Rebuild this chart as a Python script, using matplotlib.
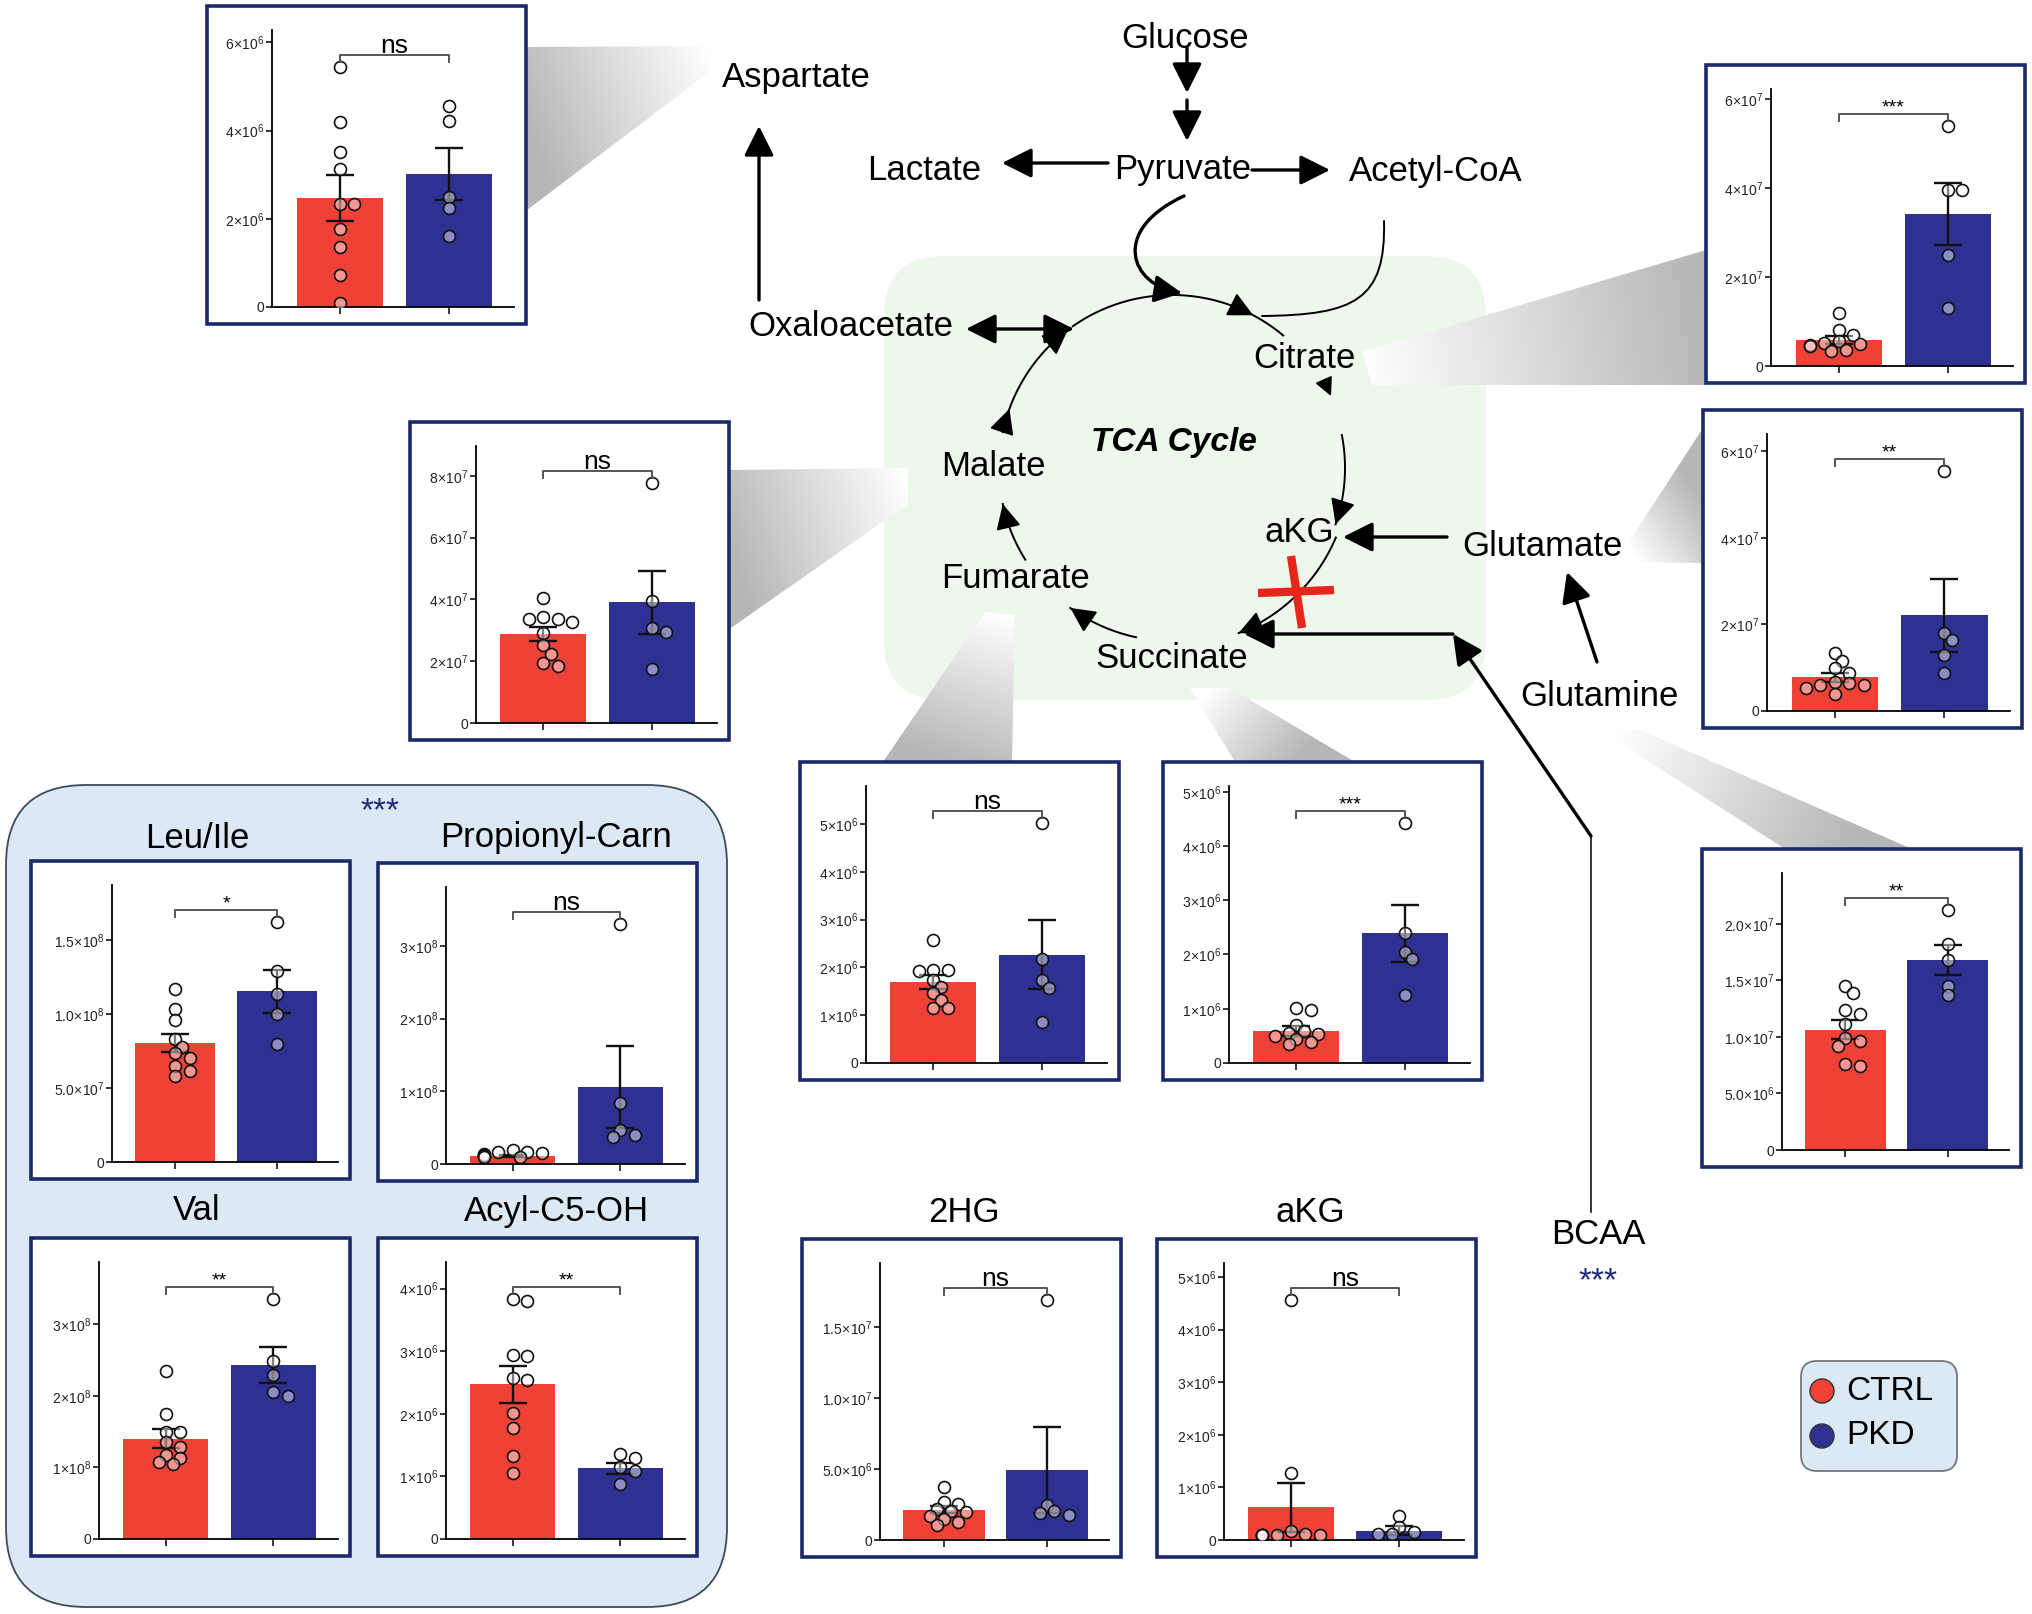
import numpy as np
import matplotlib
matplotlib.use("Agg")
import matplotlib.pyplot as plt
from matplotlib.patches import Rectangle, FancyBboxPatch, Polygon, FancyArrowPatch
from matplotlib.path import Path
from matplotlib.colors import to_rgb

plt.rcParams['font.family'] = ['Liberation Sans', 'DejaVu Sans']
plt.rcParams['mathtext.fontset'] = 'custom'
plt.rcParams['mathtext.rm'] = 'Liberation Sans'
plt.rcParams['mathtext.it'] = 'Liberation Sans:italic'
plt.rcParams['mathtext.bf'] = 'Liberation Sans:bold'

W, H = 2032, 1614
CTRL_COL = '#ef4136'
PKD_COL = '#2e3192'
NAVY = '#1b2a6b'

# ---- data (CTRL points, PKD points, bar means, SEM) ----
groups = ['CTRL', 'PKD']

asp_ctrl = [5.44e6, 4.19e6, 3.52e6, 3.12e6, 2.33e6, 2.33e6, 1.78e6, 1.37e6, 0.73e6, 0.10e6]
asp_pkd = [4.57e6, 4.21e6, 2.50e6, 2.24e6, 1.60e6]
asp_mean = [2.48e6, 3.02e6]
asp_sem = [0.52e6, 0.59e6]

cit_ctrl = [1.19e7, 0.80e7, 0.69e7, 0.56e7, 0.52e7, 0.50e7, 0.48e7, 0.45e7, 0.37e7, 0.34e7]
cit_pkd = [5.39e7, 3.96e7, 3.96e7, 2.50e7, 1.30e7]
cit_mean = [0.58e7, 3.41e7]
cit_sem = [0.09e7, 0.70e7]

glu_ctrl = [1.34e7, 1.15e7, 1.00e7, 0.88e7, 0.68e7, 0.65e7, 0.61e7, 0.60e7, 0.54e7, 0.40e7]
glu_pkd = [5.54e7, 1.80e7, 1.65e7, 1.30e7, 0.88e7]
glu_mean = [0.78e7, 2.21e7]
glu_sem = [0.10e7, 0.84e7]

gln_ctrl = [1.45e7, 1.39e7, 1.24e7, 1.20e7, 1.11e7, 0.99e7, 0.96e7, 0.92e7, 0.76e7, 0.74e7]
gln_pkd = [2.12e7, 1.82e7, 1.68e7, 1.45e7, 1.37e7]
gln_mean = [1.065e7, 1.68e7]
gln_sem = [0.08e7, 0.135e7]

mal_ctrl = [4.06e7, 3.42e7, 3.38e7, 3.35e7, 3.28e7, 2.90e7, 2.52e7, 2.24e7, 1.93e7, 1.86e7]
mal_pkd = [7.76e7, 3.94e7, 3.08e7, 2.95e7, 1.75e7]
mal_mean = [2.88e7, 3.90e7]
mal_sem = [0.24e7, 1.02e7]

fum_ctrl = [2.58e6, 1.95e6, 1.94e6, 1.92e6, 1.74e6, 1.60e6, 1.46e6, 1.32e6, 1.15e6, 1.15e6]
fum_pkd = [5.02e6, 2.18e6, 1.73e6, 1.57e6, 0.86e6]
fum_mean = [1.69e6, 2.27e6]
fum_sem = [0.15e6, 0.72e6]

suc_ctrl = [1.02e6, 0.98e6, 0.70e6, 0.59e6, 0.55e6, 0.53e6, 0.50e6, 0.45e6, 0.39e6, 0.35e6]
suc_pkd = [4.42e6, 2.40e6, 2.04e6, 1.91e6, 1.25e6]
suc_mean = [0.59e6, 2.39e6]
suc_sem = [0.09e6, 0.53e6]

hg_ctrl = [3.70e6, 2.65e6, 2.53e6, 2.18e6, 2.06e6, 1.95e6, 1.71e6, 1.48e6, 1.24e6, 1.08e6]
hg_pkd = [1.69e7, 2.48e6, 2.06e6, 1.87e6, 1.78e6]
hg_mean = [2.13e6, 4.94e6]
hg_sem = [0.25e6, 3.03e6]

akg_ctrl = [4.56e6, 1.27e6, 0.18e6, 0.11e6, 0.10e6, 0.09e6, 0.09e6, 0.09e6, 0.09e6, 0.09e6]
akg_pkd = [0.46e6, 0.24e6, 0.15e6, 0.11e6, 0.11e6]
akg_mean = [0.62e6, 0.18e6]
akg_sem = [0.46e6, 0.09e6]

leu_ctrl = [1.168e8, 1.033e8, 0.959e8, 0.831e8, 0.775e8, 0.734e8, 0.700e8, 0.651e8, 0.618e8, 0.584e8]
leu_pkd = [1.62e8, 1.287e8, 1.134e8, 1.00e8, 0.797e8]
leu_mean = [0.804e8, 1.152e8]
leu_sem = [0.063e8, 0.143e8]

pro_ctrl = [0.19e8, 0.17e8, 0.16e8, 0.15e8, 0.14e8, 0.13e8, 0.12e8, 0.11e8, 0.10e8, 0.09e8]
pro_pkd = [3.30e8, 0.845e8, 0.466e8, 0.397e8, 0.365e8]
pro_mean = [0.114e8, 1.06e8]
pro_sem = [0.012e8, 0.57e8]

val_ctrl = [2.34e8, 1.75e8, 1.50e8, 1.49e8, 1.36e8, 1.29e8, 1.18e8, 1.13e8, 1.08e8, 1.05e8]
val_pkd = [3.35e8, 2.48e8, 2.29e8, 2.06e8, 2.00e8]
val_mean = [1.40e8, 2.43e8]
val_sem = [0.13e8, 0.25e8]

c5_ctrl = [3.83e6, 3.80e6, 2.94e6, 2.93e6, 2.57e6, 2.54e6, 2.01e6, 1.78e6, 1.33e6, 1.05e6]
c5_pkd = [1.36e6, 1.29e6, 1.15e6, 1.08e6, 0.88e6]
c5_mean = [2.47e6, 1.13e6]
c5_sem = [0.30e6, 0.09e6]

# y ticks of each panel
asp_ticks = [0, 2e6, 4e6, 6e6]
cit_ticks = [0, 2e7, 4e7, 6e7]
glu_ticks = [0, 2e7, 4e7, 6e7]
gln_ticks = [0, 5e6, 1e7, 1.5e7, 2e7]
mal_ticks = [0, 2e7, 4e7, 6e7, 8e7]
fum_ticks = [0, 1e6, 2e6, 3e6, 4e6, 5e6]
suc_ticks = [0, 1e6, 2e6, 3e6, 4e6, 5e6]
hg_ticks = [0, 5e6, 1e7, 1.5e7]
akg_ticks = [0, 1e6, 2e6, 3e6, 4e6, 5e6]
leu_ticks = [0, 5e7, 1e8, 1.5e8]
pro_ticks = [0, 1e8, 2e8, 3e8]
val_ticks = [0, 1e8, 2e8, 3e8]
c5_ticks = [0, 1e6, 2e6, 3e6, 4e6]

significance = {'asp': 'ns', 'cit': '***', 'glu': '**', 'gln': '**', 'mal': 'ns',
                'fum': 'ns', 'suc': '***', 'hg': 'ns', 'akg': 'ns', 'leu': '*',
                'pro': 'ns', 'val': '**', 'c5': '**'}


def tick_label(v, dec):
    if v == 0:
        return '0'
    e = int(np.floor(np.log10(v) + 1e-9))
    m = v / 10 ** e
    ms = f'{m:.1f}' if dec else f'{m:.0f}'
    return r'$' + ms + r'\!\times\!10^{' + str(e) + '}$'


def swarm(vals, xc, ypx, xpx, diam=12.0):
    xs = np.zeros(len(vals))
    placed = []
    for i in np.argsort(vals)[::-1]:
        y = vals[i] * ypx
        for k in [0, 1, -1, 2, -2, 3, -3, 4, -4]:
            x = k * diam * 0.6
            if all((x - px) ** 2 + (y - py) ** 2 >= (0.75 * diam) ** 2 for px, py in placed):
                break
        placed.append((x, y))
        xs[i] = xc + x / xpx
    return xs


fig = plt.figure(figsize=(W / 100, H / 100), dpi=100)
ax0 = fig.add_axes([0, 0, 1, 1])
ax0.set_xlim(0, W)
ax0.set_ylim(H, 0)
ax0.axis('off')


def wedge(verts, dark_pt, light_pt, dark='#b6b6b6'):
    poly = Polygon(verts, closed=True, fc='none', ec='none')
    ax0.add_patch(poly)
    xs = [v[0] for v in verts]
    ys = [v[1] for v in verts]
    x0, x1, y0, y1 = min(xs), max(xs), min(ys), max(ys)
    X, Y = np.meshgrid(np.linspace(x0, x1, int(x1 - x0) + 2), np.linspace(y0, y1, int(y1 - y0) + 2))
    d = np.array(light_pt, float) - np.array(dark_pt, float)
    t = np.clip(((X - dark_pt[0]) * d[0] + (Y - dark_pt[1]) * d[1]) / (d @ d), 0, 1)
    img = np.array(to_rgb(dark)) * (1 - t[..., None]) + t[..., None]
    im = ax0.imshow(img, extent=[x0, x1, y1, y0], origin='upper', aspect='auto', zorder=1)
    im.set_clip_path(poly)


# background shapes
ax0.add_patch(FancyBboxPatch((6, 785), 721, 822, boxstyle='round,pad=0,rounding_size=80',
                             fc='#dce9f5', ec='#3f4a5e', lw=1.3, zorder=0.5))
ax0.add_patch(FancyBboxPatch((884, 256), 602, 444, boxstyle='round,pad=0,rounding_size=60',
                             fc='#eef7ec', ec='none', zorder=0.5))

wedge([(527, 47), (712, 46), (712, 70), (527, 210)], (527, 130), (712, 58))
wedge([(1362, 352), (1706, 250), (1706, 385), (1372, 385)], (1706, 320), (1365, 368))
wedge([(1630, 540), (1703, 428), (1703, 563), (1630, 562)], (1703, 500), (1630, 550))
wedge([(1600, 730), (1640, 730), (1912, 849), (1785, 849)], (1850, 849), (1620, 730))
wedge([(728, 470), (908, 468), (908, 504), (728, 630)], (728, 550), (908, 486))
wedge([(985, 612), (1015, 615), (1012, 762), (883, 762)], (950, 762), (1000, 614))
wedge([(1190, 688), (1230, 688), (1355, 762), (1235, 762)], (1295, 762), (1210, 688))
ax0.set_xlim(0, W)
ax0.set_ylim(H, 0)

# ---- bar panels ----
panels = [
    ('asp', asp_ctrl, asp_pkd, asp_mean, asp_sem, asp_ticks, False, 207, 6, 65),
    ('cit', cit_ctrl, cit_pkd, cit_mean, cit_sem, cit_ticks, False, 1706, 65, 65),
    ('glu', glu_ctrl, glu_pkd, glu_mean, glu_sem, glu_ticks, False, 1703, 410, 64),
    ('gln', gln_ctrl, gln_pkd, gln_mean, gln_sem, gln_ticks, True, 1702, 849, 80),
    ('mal', mal_ctrl, mal_pkd, mal_mean, mal_sem, mal_ticks, False, 410, 422, 66),
    ('fum', fum_ctrl, fum_pkd, fum_mean, fum_sem, fum_ticks, False, 800, 762, 66),
    ('suc', suc_ctrl, suc_pkd, suc_mean, suc_sem, suc_ticks, False, 1163, 762, 66),
    ('hg', hg_ctrl, hg_pkd, hg_mean, hg_sem, hg_ticks, True, 802, 1239, 78),
    ('akg', akg_ctrl, akg_pkd, akg_mean, akg_sem, akg_ticks, False, 1157, 1239, 67),
    ('leu', leu_ctrl, leu_pkd, leu_mean, leu_sem, leu_ticks, True, 31, 861, 81),
    ('pro', pro_ctrl, pro_pkd, pro_mean, pro_sem, pro_ticks, False, 378, 863, 68),
    ('val', val_ctrl, val_pkd, val_mean, val_sem, val_ticks, False, 31, 1238, 68),
    ('c5', c5_ctrl, c5_pkd, c5_mean, c5_sem, c5_ticks, False, 378, 1238, 68),
]

BW, BH = 319, 318
for key, ctrl, pkd, mean, sem, ticks, dec, bx, by, loff in panels:
    ax0.add_patch(Rectangle((bx, by), BW, BH, fc='white', ec=NAVY, lw=2.6, zorder=3))
    left, right = bx + loff, bx + BW - 12
    top, bottom = by + 24, by + 301
    ax = fig.add_axes([left / W, 1 - bottom / H, (right - left) / W, (bottom - top) / H])
    ax.patch.set_alpha(0)
    bracket = 1.05 * max(max(ctrl), max(pkd))
    ytop = 1.1 * bracket
    ax.set_xlim(-0.62, 1.6)
    ax.set_ylim(0, ytop)
    ax.bar([0, 1], mean, width=0.79, color=[CTRL_COL, PKD_COL], zorder=2)
    ax.errorbar([0, 1], mean, yerr=sem, fmt='none', ecolor='#111111', elinewidth=1.7,
                capsize=10, capthick=1.7, zorder=3)
    ypx = (bottom - top) / ytop
    xpx = (right - left) / 2.22
    for xc, vals in [(0, ctrl), (1, pkd)]:
        xs = swarm(np.array(vals), xc, ypx, xpx)
        ax.plot(xs, vals, 'o', ms=8.6, mfc=(1, 1, 1, 0.45), mec='#111111', mew=1.2,
                linestyle='none', zorder=4)
    drop = 0.026 * ytop
    ax.plot([0, 0, 1, 1], [bracket - drop, bracket, bracket, bracket - drop],
            color='#555555', lw=1.4, zorder=5)
    sig = significance[key]
    if sig == 'ns':
        ax.text(0.5, bracket + 0.008 * ytop, sig, ha='center', va='baseline', fontsize=19)
    else:
        ax.text(0.5, bracket + 0.006 * ytop, sig, ha='center', va='baseline', fontsize=14)
    for s in ['top', 'right']:
        ax.spines[s].set_visible(False)
    for s in ['left', 'bottom']:
        ax.spines[s].set_linewidth(1.3)
    ax.set_yticks(ticks)
    ax.set_yticklabels([tick_label(v, dec) for v in ticks], fontsize=10, color='#222222')
    ax.set_xticks([0, 1])
    ax.set_xticklabels([])
    ax.tick_params(axis='y', length=4, width=1.1, pad=1.5)
    ax.tick_params(axis='x', length=5, width=1.1)

# ---- pathway diagram ----
LBL = 25


def label(x, y, s, **kw):
    kw.setdefault('fontsize', LBL)
    ax0.text(x, y, s, ha='center', va='center', zorder=6, **kw)


def arrow(p0, p1, lw=2.4, style='-|>', ms=26):
    ax0.annotate('', xy=p1, xytext=p0, zorder=6,
                 arrowprops=dict(arrowstyle=style + ',head_length=0.7,head_width=0.35',
                                 lw=lw, color='black', mutation_scale=ms,
                                 shrinkA=0, shrinkB=0))


label(1185, 39, 'Glucose')
label(796, 78, 'Aspartate')
label(924, 170, 'Lactate')
label(1183, 170, 'Pyruvate')
label(1436, 172, 'Acetyl-CoA')
label(851, 326, 'Oxaloacetate')
label(1304, 359, 'Citrate')
label(993, 466, 'Malate')
label(1174, 442, 'TCA Cycle', fontweight='bold', fontstyle='italic', fontsize=24)
label(1299, 533, 'aKG')
label(1542, 547, 'Glutamate')
label(1015, 578, 'Fumarate')
label(1172, 659, 'Succinate')
label(1599, 697, 'Glutamine')
label(1598, 1234, 'BCAA')
label(1598, 1282, '***', color='#1f2a7a', fontsize=24)
label(380, 812, '***', color='#1f2a7a', fontsize=24)
label(197, 838, 'Leu/Ile')
label(556, 838, 'Propionyl-Carn')
label(197, 1211, 'Val')
label(556, 1211, 'Acyl-C5-OH')
label(964, 1213, '2HG')
label(1310, 1213, 'aKG')

arrow((1187, 48), (1187, 93))
arrow((1187, 100), (1187, 141))
arrow((1108, 163), (1002, 163))
arrow((1252, 170), (1330, 170))
arrow((759, 300), (759, 126))
arrow((966, 329), (1074, 329), style='<|-|>')
arrow((1447, 537), (1343, 537))
arrow((1597, 662), (1567, 572))
arrow((1591, 836), (1453, 634))
arrow((1453, 634), (1244, 634))
ax0.plot([1591, 1591], [836, 1212], color='black', lw=1.1, zorder=6)

# pyruvate into the cycle
pyr = Path([(1184, 196), (1110, 230), (1130, 285), (1182, 293)],
           [Path.MOVETO, Path.CURVE4, Path.CURVE4, Path.CURVE4])
ax0.add_patch(FancyArrowPatch(path=pyr, arrowstyle='-|>,head_length=0.7,head_width=0.35',
                              mutation_scale=24, lw=2.4, color='black', zorder=6))
# acetyl-CoA into the cycle
acc = Path([(1384, 221), (1386, 300), (1355, 315), (1262, 316)],
           [Path.MOVETO, Path.CURVE4, Path.CURVE4, Path.CURVE4])
ax0.add_patch(FancyArrowPatch(path=acc, arrowstyle='-', lw=1.4, color='black', zorder=6))

# cycle arcs
cx, cy, r = 1172, 468, 173


def arc(t1, t2, heads, rad=r):
    th = np.radians(np.linspace(t1, t2, 80))
    ax0.plot(cx + rad * np.cos(th), cy - rad * np.sin(th), color='black', lw=1.4, zorder=6)
    step = 3 if t2 < t1 else -3
    for h in heads:
        a, b = np.radians(h + step), np.radians(h)
        arrow((cx + rad * np.cos(a), cy - rad * np.sin(a)),
              (cx + rad * np.cos(b), cy - rad * np.sin(b)), lw=1.4, ms=22)


arc(125, 50, [62])
arc(168, 126, [160, 127])
arc(11, -19, [-19])
arc(-23, -68, [-68], rad=178)
arc(-102, -126, [-126])
arc(-148, -168, [-168])
arrow((1327, 387), (1331, 396), lw=1.2, ms=16)

# red block on aKG -> succinate
ax0.plot([1258, 1334], [593, 590], color='#e5261b', lw=6, solid_capstyle='butt', zorder=7)
ax0.plot([1291, 1302], [556, 628], color='#e5261b', lw=6, solid_capstyle='butt', zorder=7)

# legend
ax0.add_patch(FancyBboxPatch((1801, 1361), 156, 110, boxstyle='round,pad=0,rounding_size=16',
                             fc='#dbe9f5', ec='#777777', lw=1.3, zorder=5))
ax0.scatter([1822, 1822], [1391, 1436], s=300, c=[CTRL_COL, PKD_COL], edgecolors='#333333',
            linewidths=1.0, zorder=6)
ax0.text(1846, 1391, groups[0], fontsize=24, va='center', ha='left', zorder=6)
ax0.text(1846, 1436, groups[1], fontsize=24, va='center', ha='left', zorder=6)

fig.savefig('out.png', dpi=100)
